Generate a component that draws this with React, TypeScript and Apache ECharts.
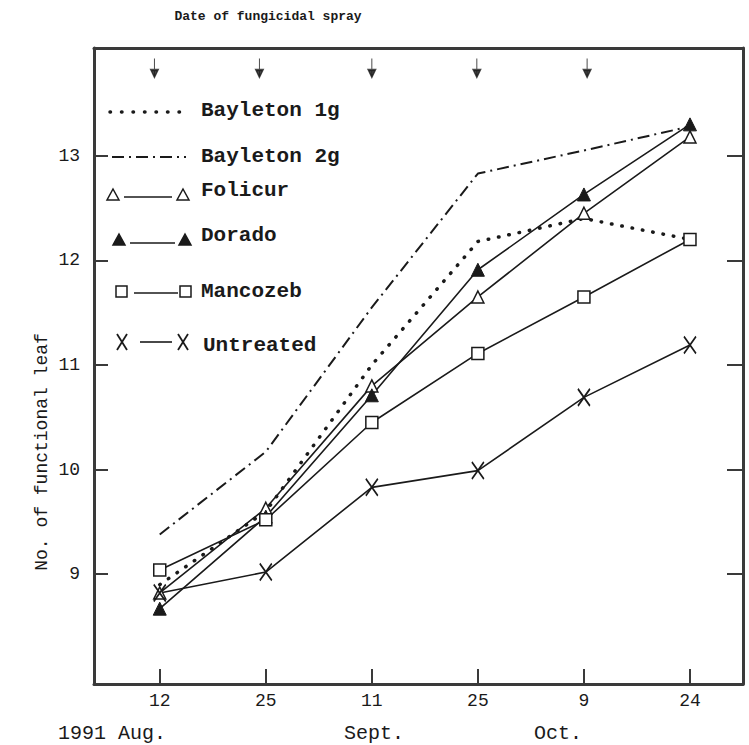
import React, { useEffect, useRef } from "react";
import * as echarts from "echarts";

const dayLabels = ["12", "25", "11", "25", "9", "24"];
const monthLabels = ["1991 Aug.", "Sept.", "Oct."];
const yTicks = [9, 10, 11, 12, 13];
const sprayDates = [-0.05, 0.94, 2.0, 2.99, 4.03];
const sprayMarkY = 13.84;

const bayleton1g = [8.9, 9.6, 11.0, 12.18, 12.4, 12.2];
const bayleton2g = [9.38, 10.17, 11.55, 12.83, 13.05, 13.28];
const folicur = [8.82, 9.63, 10.8, 11.65, 12.45, 13.18];
const dorado = [8.67, 9.55, 10.71, 11.91, 12.63, 13.3];
const mancozeb = [9.04, 9.52, 10.45, 11.11, 11.65, 12.2];
const untreated = [8.82, 9.02, 9.83, 9.99, 10.69, 11.19];

const FONT = '"Liberation Mono", "DejaVu Sans Mono", monospace';
const INK = "#1a1a1a";
const AXIS = "#3a3a3a";
const X_PATH = "path://M0,0 L10,16 M10,0 L0,16";
const ARROW_PATH = "path://M4,0 L4,18 M1.5,11 L4,18 L6.5,11 Z";

const toPairs = (arr: number[]) => arr.map((v, i) => [i, v]);

function buildOption() {
  const lineBase = { type: "line", symbolKeepAspect: false, z: 3 } as any;
  const legendRows: any[] = [];
  const txt = (label: string, x: number, y: number) => ({
    type: "text",
    x,
    y,
    style: {
      text: label,
      font: `bold 21px ${FONT}`,
      fill: INK,
      textVerticalAlign: "middle",
    },
  });
  legendRows.push({
    type: "line",
    shape: { x1: 110, y1: 112, x2: 180, y2: 112 },
    style: { stroke: INK, lineWidth: 3.5, lineDash: [0.5, 11], lineCap: "round" },
  });
  legendRows.push(txt("Bayleton 1g", 201, 110));
  legendRows.push({
    type: "line",
    shape: { x1: 112, y1: 157, x2: 186, y2: 157 },
    style: { stroke: INK, lineWidth: 2, lineDash: [12, 5, 2, 5], lineCap: "butt" },
  });
  legendRows.push(txt("Bayleton 2g", 201, 156));
  const tri = (cx: number, cy: number, fill: string) => ({
    type: "polygon",
    shape: { points: [[cx, cy - 6], [cx + 6, cy + 5], [cx - 6, cy + 5]] },
    style: { fill, stroke: INK, lineWidth: 1.5 },
  });
  legendRows.push(tri(113, 195, "#fff"), tri(183, 195, "#fff"));
  legendRows.push({ type: "line", shape: { x1: 124, y1: 197, x2: 172, y2: 197 }, style: { stroke: INK, lineWidth: 1.6 } });
  legendRows.push(txt("Folicur", 201, 190));
  legendRows.push(tri(119, 240, INK), tri(185, 240, INK));
  legendRows.push({ type: "line", shape: { x1: 130, y1: 243, x2: 175, y2: 243 }, style: { stroke: INK, lineWidth: 1.6 } });
  legendRows.push(txt("Dorado", 201, 235));
  legendRows.push({ type: "rect", shape: { x: 116, y: 286, width: 11, height: 11 }, style: { fill: "#fff", stroke: INK, lineWidth: 1.5 } });
  legendRows.push({ type: "rect", shape: { x: 180, y: 286, width: 11, height: 11 }, style: { fill: "#fff", stroke: INK, lineWidth: 1.5 } });
  legendRows.push({ type: "line", shape: { x1: 134, y1: 293, x2: 178, y2: 293 }, style: { stroke: INK, lineWidth: 1.6 } });
  legendRows.push(txt("Mancozeb", 201, 291));
  const cross = (cx: number, cy: number) => [
    { type: "line", shape: { x1: cx - 5, y1: cy - 8, x2: cx + 5, y2: cy + 8 }, style: { stroke: INK, lineWidth: 1.8 } },
    { type: "line", shape: { x1: cx + 5, y1: cy - 8, x2: cx - 5, y2: cy + 8 }, style: { stroke: INK, lineWidth: 1.8 } },
  ];
  legendRows.push(...cross(122, 342), ...cross(183, 342));
  legendRows.push({ type: "line", shape: { x1: 140, y1: 342, x2: 172, y2: 342 }, style: { stroke: INK, lineWidth: 1.6 } });
  legendRows.push(txt("Untreated", 203, 345));

  const monthX = [112, 374, 558];
  const months = monthLabels.map((m, i) => ({
    type: "text",
    x: monthX[i],
    y: 733,
    style: { text: m, font: `20px ${FONT}`, fill: INK, textAlign: "center", textVerticalAlign: "middle" },
  }));

  const yAxisBase = {
    type: "value",
    min: 7.95,
    max: 14.03,
    splitLine: { show: false },
  };

  return {
    animation: false,
    backgroundColor: "#fff",
    title: {
      text: "Date of fungicidal spray",
      left: 263,
      top: 5,
      textAlign: "center",
      textStyle: { fontFamily: FONT, fontSize: 13, fontWeight: "bold", color: INK },
    },
    grid: { left: 94, top: 48, right: 6, bottom: 61, containLabel: false },
    xAxis: [
      {
        type: "value",
        min: -0.62,
        max: 5.5,
        position: "bottom",
        axisLine: { show: true, onZero: false, lineStyle: { color: AXIS, width: 3 } },
        axisTick: { show: true, inside: true, length: 15, customValues: [0, 1, 2, 3, 4, 5], lineStyle: { color: AXIS, width: 2 } },
        axisLabel: {
          customValues: [0, 1, 2, 3, 4, 5],
          formatter: (v: number) => dayLabels[Math.round(v)] ?? "",
          margin: 8,
          fontFamily: FONT,
          fontSize: 18,
          color: INK,
        },
        splitLine: { show: false },
      },
      {
        type: "value",
        min: -0.62,
        max: 5.5,
        position: "top",
        axisLine: { show: true, onZero: false, lineStyle: { color: AXIS, width: 3 } },
        axisTick: { show: false },
        axisLabel: { show: false },
        splitLine: { show: false },
      },
    ],
    yAxis: [
      {
        ...yAxisBase,
        position: "left",
        axisLine: { show: true, onZero: false, lineStyle: { color: AXIS, width: 3 } },
        axisTick: { show: true, inside: true, length: 14, customValues: yTicks, lineStyle: { color: AXIS, width: 2 } },
        axisLabel: {
          customValues: yTicks,
          formatter: (v: number) => String(Math.round(v)),
          margin: 14,
          fontFamily: FONT,
          fontSize: 18,
          color: INK,
        },
      },
      {
        ...yAxisBase,
        position: "right",
        axisLine: { show: true, onZero: false, lineStyle: { color: AXIS, width: 3 } },
        axisTick: { show: true, inside: true, length: 16, customValues: yTicks, lineStyle: { color: AXIS, width: 2 } },
        axisLabel: { show: false },
      },
    ],
    graphic: [
      ...legendRows,
      ...months,
      {
        type: "text",
        x: 42,
        y: 452,
        rotation: Math.PI / 2,
        style: {
          text: "No. of functional leaf",
          font: `18px ${FONT}`,
          fill: INK,
          textAlign: "center",
          textVerticalAlign: "middle",
        },
      },
    ],
    series: [
      {
        ...lineBase,
        name: "Bayleton 1g",
        data: toPairs(bayleton1g),
        showSymbol: false,
        symbol: "none",
        lineStyle: { color: INK, width: 3.5, type: [0.5, 10], cap: "round" },
      },
      {
        ...lineBase,
        name: "Bayleton 2g",
        data: toPairs(bayleton2g),
        symbol: "none",
        lineStyle: { color: INK, width: 2, type: [12, 5, 2, 5] },
      },
      {
        ...lineBase,
        name: "Folicur",
        data: toPairs(folicur),
        symbol: "triangle",
        symbolSize: 12,
        itemStyle: { color: "#fff", borderColor: INK, borderWidth: 1.5 },
        lineStyle: { color: INK, width: 1.6 },
      },
      {
        ...lineBase,
        name: "Dorado",
        data: toPairs(dorado),
        symbol: "triangle",
        symbolSize: 13,
        itemStyle: { color: INK, borderColor: INK, borderWidth: 1 },
        lineStyle: { color: INK, width: 1.6 },
      },
      {
        ...lineBase,
        name: "Mancozeb",
        data: toPairs(mancozeb),
        symbol: "rect",
        symbolSize: 12,
        itemStyle: { color: "#fff", borderColor: INK, borderWidth: 1.5 },
        lineStyle: { color: INK, width: 1.6 },
      },
      {
        ...lineBase,
        name: "Untreated",
        data: toPairs(untreated),
        symbol: X_PATH,
        symbolSize: [12, 17],
        itemStyle: { color: "none", borderColor: INK, borderWidth: 1.8 },
        lineStyle: { color: INK, width: 1.6 },
      },
      {
        type: "scatter",
        name: "Spray",
        data: sprayDates.map((d) => [d, sprayMarkY]),
        symbol: ARROW_PATH,
        symbolSize: [7, 19],
        silent: true,
        itemStyle: { color: INK, borderColor: INK, borderWidth: 1.6 },
      },
    ],
  };
}

export default function App() {
  const ref = useRef<HTMLDivElement>(null);
  useEffect(() => {
    if (!ref.current) return;
    const chart = echarts.init(ref.current, null, { renderer: "svg" });
    chart.setOption(buildOption() as any);
    return () => chart.dispose();
  }, []);
  return (
    <div
      ref={ref}
      style={{ position: "absolute", left: 0, top: 0, width: 749, height: 745, background: "#fff" }}
    />
  );
}
